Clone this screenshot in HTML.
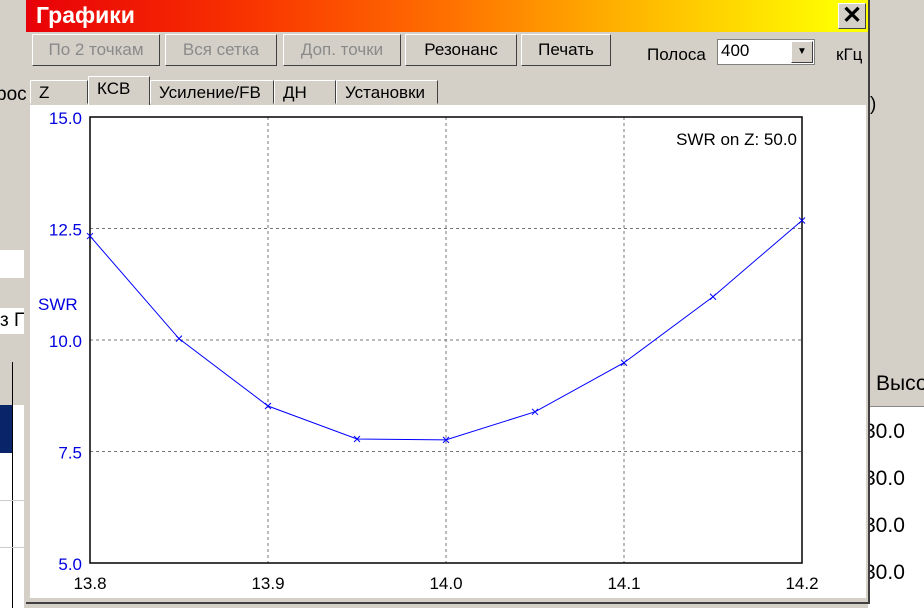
<!DOCTYPE html>
<html><head><meta charset="utf-8"><style>
body{margin:0;width:924px;height:608px;overflow:hidden;background:#fff;font-family:"Liberation Sans",sans-serif;position:relative}
.abs{position:absolute}
.btn{position:absolute;top:34px;height:32px;background:#d4d0c8;border:1px solid;border-color:#fff #404040 #404040 #fff;box-sizing:border-box;font-size:17px;line-height:30px;text-align:center;color:#000}
.dis{color:#8a8a8a}
.tab{position:absolute;top:78px;height:26px;background:#d4d0c8;border:1px solid;border-color:#fff #404040 #d4d0c8 #fff;box-sizing:border-box;font-size:17px;line-height:24px;padding-left:8px}
.cell{position:absolute;font-size:21px;color:#000}
</style></head><body>
<div class="abs" style="left:0;top:0;width:924px;height:608px;background:#d4d0c8"></div>
<div class="abs" style="left:0;top:250px;width:24px;height:28px;background:#fff"></div>
<div class="abs" style="left:0;top:308px;width:24px;height:26px;background:#fff;font-size:19px;white-space:nowrap;overflow:hidden;line-height:26px">з П</div>
<div class="abs" style="left:-4px;top:84px;font-size:19px">рос</div>
<div class="abs" style="left:0;top:405px;width:24px;height:203px;background:#fff"></div>
<div class="abs" style="left:0;top:405px;width:12px;height:48px;background:#0a246a"></div>
<div class="abs" style="left:12px;top:362px;width:1px;height:246px;background:#000"></div>
<div class="abs" style="left:0;top:500px;width:24px;height:1px;background:#ccc"></div>
<div class="abs" style="left:0;top:547px;width:24px;height:1px;background:#ccc"></div>
<div class="abs" style="left:868px;top:360px;width:56px;height:248px;background:#fff"></div>
<div class="abs" style="left:868px;top:360px;width:56px;height:46px;background:#d4d0c8;border-bottom:1px solid #888"></div>
<div class="abs" style="left:870px;top:94px;font-size:19px">)</div>
<div class="abs" style="left:876px;top:372px;font-size:21px">Высо</div>
<div class="cell" style="left:864px;top:420px">30.0</div>
<div class="cell" style="left:864px;top:467px">30.0</div>
<div class="cell" style="left:864px;top:514px">30.0</div>
<div class="cell" style="left:864px;top:561px">30.0</div>

<div class="abs" style="left:26px;top:0;width:844px;height:604px;background:#d4d0c8;border-right:2px solid #404040;border-bottom:2px solid #404040;box-sizing:border-box"></div>
<div class="abs" style="left:26px;top:0;width:842px;height:32px;background:linear-gradient(90deg,#e80008 0%,#f83000 25%,#ff7000 50%,#ffb000 70%,#ffff00 97%)"></div>
<div class="abs" style="left:36px;top:2px;font-size:23px;font-weight:bold;color:#fff">Графики</div>
<div class="abs" style="left:838px;top:3px;width:28px;height:26px;background:#d4d0c8;border:1px solid;border-color:#fff #404040 #404040 #fff;box-sizing:border-box;font-size:24px;font-weight:bold;text-align:center;line-height:24px">✕</div>

<div class="btn dis" style="left:32px;width:128px">По 2 точкам</div>
<div class="btn dis" style="left:165px;width:112px">Вся сетка</div>
<div class="btn dis" style="left:283px;width:118px">Доп. точки</div>
<div class="btn" style="left:405px;width:112px">Резонанс</div>
<div class="btn" style="left:521px;width:90px">Печать</div>
<div class="abs" style="left:647px;top:45px;font-size:17px">Полоса</div>
<div class="abs" style="left:717px;top:39px;width:98px;height:26px;background:#fff;border:1px solid #808080;box-sizing:border-box;font-size:17px;padding-left:3px;line-height:22px">400<div style="position:absolute;right:1px;top:1px;width:22px;height:22px;background:#d4d0c8;border:1px solid;border-color:#fff #404040 #404040 #fff;box-sizing:border-box;font-size:10px;text-align:center;line-height:20px">▼</div></div>
<div class="abs" style="left:836px;top:45px;font-size:17px">кГц</div>

<div class="tab" style="left:30px;width:58px;top:80px;height:24px">Z</div>
<div class="tab" style="left:88px;width:62px;top:76px;height:30px;border-bottom:none">КСВ</div>
<div class="tab" style="left:150px;width:124px;top:80px;height:24px">Усиление/FB</div>
<div class="tab" style="left:274px;width:62px;top:80px;height:24px">ДН</div>
<div class="tab" style="left:336px;width:102px;top:80px;height:24px">Установки</div>

<div class="abs" style="left:30px;top:105px;width:836px;height:492px;background:#fff;border-top:1px solid #fff"></div>

<svg class="abs" style="left:0;top:0" width="924" height="608">
<g id="g"></g>
</svg>
<script>
const xTicks=[13.8,13.9,14.0,14.1,14.2];
const yTicks=[5.0,7.5,10.0,12.5,15.0];
const freqs=[13.8,13.85,13.9,13.95,14.0,14.05,14.1,14.15,14.2];
const swr=[12.33,10.03,8.52,7.78,7.76,8.39,9.49,10.97,12.68];
const L=90,R=802,T=117,B=563;
const sx=v=>L+(v-13.8)/(14.2-13.8)*(R-L);
const sy=v=>B-(v-5)/(15-5)*(B-T);
const g=document.getElementById('g');
const NS='http://www.w3.org/2000/svg';
function mk(t,a){const e=document.createElementNS(NS,t);for(const k in a)e.setAttribute(k,a[k]);g.appendChild(e);return e;}
xTicks.forEach((v,i)=>{
 if(i>0&&i<xTicks.length-1){const l=mk('line',{x1:sx(v),x2:sx(v),y1:T,y2:B,stroke:'#777','stroke-dasharray':'3,3','stroke-width':1});
 }
 const t=mk('text',{x:sx(v),y:589,'text-anchor':'middle','font-size':17,fill:'#000','font-family':'Liberation Sans'});t.textContent=v.toFixed(1);
 
});
yTicks.forEach((v,i)=>{
 if(i>0&&i<yTicks.length-1){const l=mk('line',{x1:L,x2:R,y1:sy(v),y2:sy(v),stroke:'#777','stroke-dasharray':'3,3','stroke-width':1});
 }
 const t=mk('text',{x:82,y:sy(v)+7,'text-anchor':'end','font-size':17,fill:'#0000e0','font-family':'Liberation Sans'});t.textContent=v.toFixed(1);
 
});
const fr=mk('rect',{x:L,y:T,width:R-L,height:B-T,fill:'none',stroke:'#000','stroke-width':1.5});

const yt=mk('text',{x:38,y:310,'font-size':17,fill:'#0000e0','font-family':'Liberation Sans'});yt.textContent='SWR';

const note=mk('text',{x:797,y:145,'text-anchor':'end','font-size':17,fill:'#000','font-family':'Liberation Sans'});note.textContent='SWR on Z: 50.0';

const pl=mk('polyline',{points:freqs.map((f,i)=>sx(f)+','+sy(swr[i])).join(' '),fill:'none',stroke:'#0000ff','stroke-width':1});

freqs.forEach((f,i)=>{const x=sx(f),y=sy(swr[i]);
 const p=mk('path',{d:`M${x-3},${y-3}L${x+3},${y+3}M${x-3},${y+3}L${x+3},${y-3}`,stroke:'#0000ff','stroke-width':1});
 });
</script>
</body></html>
